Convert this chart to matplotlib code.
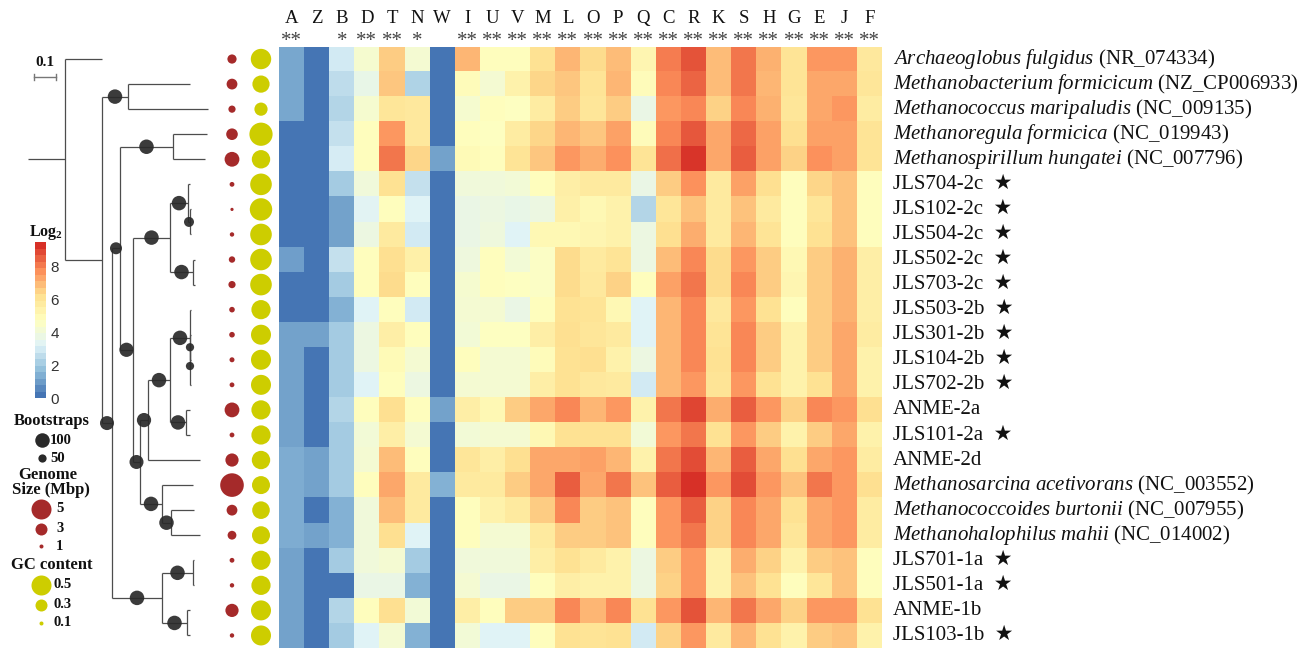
import numpy as np
import matplotlib
matplotlib.use("Agg")
import matplotlib.pyplot as plt
from matplotlib.colors import LinearSegmentedColormap, Normalize
from matplotlib.colorbar import ColorbarBase

plt.rcParams['font.family'] = ['Liberation Serif', 'DejaVu Sans']
plt.rcParams['mathtext.fontset'] = 'custom'
plt.rcParams['mathtext.rm'] = 'Liberation Serif'
plt.rcParams['mathtext.it'] = 'Liberation Serif:italic'
plt.rcParams['mathtext.bf'] = 'Liberation Serif:bold'

# Columns of the heatmap and significance marks
columns = ["A", "Z", "B", "D", "T", "N", "W", "I", "U", "V", "M", "L",
           "O", "P", "Q", "C", "R", "K", "S", "H", "G", "E", "J", "F"]
signif = ["**", "", "*", "**", "**", "*", "", "**", "**", "**", "**", "**",
          "**", "**", "**", "**", "**", "**", "**", "**", "**", "**", "**", "**"]

# Rows (taxa)
taxa = ["Archaeoglobus fulgidus", "Methanobacterium formicicum", "Methanococcus maripaludis",
        "Methanoregula formicica", "Methanospirillum hungatei", "JLS704-2c", "JLS102-2c",
        "JLS504-2c", "JLS502-2c", "JLS703-2c", "JLS503-2b", "JLS301-2b", "JLS104-2b",
        "JLS702-2b", "ANME-2a", "JLS101-2a", "ANME-2d", "Methanosarcina acetivorans",
        "Methanococcoides burtonii", "Methanohalophilus mahii", "JLS701-1a", "JLS501-1a",
        "ANME-1b", "JLS103-1b"]
accession = ["NR_074334", "NZ_CP006933", "NC_009135", "NC_019943", "NC_007796",
             "", "", "", "", "", "", "", "", "", "", "", "",
             "NC_003552", "NC_007955", "NC_014002", "", "", "", ""]

genome_mbp = [2.3, 2.7, 1.8, 2.9, 3.7, 1.2, 0.8, 1.1, 1.6, 1.8, 1.4, 1.4,
              1.25, 1.2, 3.7, 1.2, 3.3, 5.9, 2.7, 2.2, 1.2, 1.1, 3.3, 1.1]
gc_content = [0.51, 0.43, 0.33, 0.58, 0.46, 0.54, 0.56, 0.54, 0.54, 0.54, 0.48, 0.5,
              0.5, 0.5, 0.48, 0.48, 0.46, 0.45, 0.44, 0.45, 0.48, 0.48, 0.5, 0.5]

# log2 values, one row per taxon, columns in the order above
values = np.array([
    [1.1, 0, 2.9, 4.3, 6.7, 4.2, 0, 7.1, 4.8, 4.8, 6.2, 7.1, 6.4, 7.0, 5.2, 8.2, 8.9, 7.0, 8.3, 7.2, 6.1, 7.7, 7.7, 5.9],
    [1.1, 0, 2.5, 3.6, 6.8, 2.2, 0, 4.9, 4.2, 5.4, 6.5, 6.8, 6.1, 7.1, 4.9, 8.0, 8.6, 7.0, 8.3, 7.1, 6.1, 7.4, 7.4, 6.0],
    [1.1, 0, 2.3, 4.3, 6.0, 5.9, 0, 4.3, 4.8, 4.7, 5.7, 6.7, 6.0, 6.7, 3.7, 7.7, 8.0, 6.6, 8.0, 7.2, 6.0, 7.4, 7.7, 5.7],
    [0, 0, 2.6, 4.8, 7.7, 5.9, 0, 4.8, 4.7, 5.7, 6.5, 7.1, 6.8, 7.5, 4.9, 8.0, 8.8, 7.4, 8.5, 7.5, 6.3, 7.5, 7.5, 6.1],
    [0, 0, 3.0, 4.8, 8.3, 6.5, 1.0, 5.0, 4.8, 6.1, 6.8, 7.7, 7.3, 7.8, 6.1, 8.4, 9.4, 7.4, 8.7, 7.5, 6.6, 7.8, 7.5, 6.1],
    [0, 0, 2.0, 4.0, 6.2, 2.6, 0, 4.0, 4.0, 4.1, 4.8, 5.6, 5.8, 5.8, 3.7, 6.7, 7.8, 5.8, 7.5, 6.3, 4.8, 6.5, 6.9, 4.8],
    [0, 0, 1.0, 3.3, 4.8, 3.2, 0, 3.7, 3.8, 3.6, 3.8, 5.5, 5.1, 5.4, 2.3, 6.0, 6.9, 5.8, 6.9, 5.8, 4.8, 6.0, 6.9, 4.8],
    [0, 0, 1.0, 3.8, 5.8, 2.9, 0, 3.7, 3.9, 3.2, 5.1, 5.1, 5.2, 5.4, 3.8, 6.3, 7.3, 5.8, 7.1, 6.1, 4.8, 6.2, 6.9, 4.8],
    [0.9, 0, 2.6, 4.8, 6.3, 5.5, 0, 3.9, 4.8, 4.1, 4.6, 6.4, 5.8, 6.1, 3.8, 7.0, 8.0, 6.4, 7.7, 6.7, 5.1, 6.7, 7.2, 5.6],
    [0, 0, 2.0, 4.8, 6.4, 4.8, 0, 4.3, 4.8, 4.7, 4.6, 6.4, 5.9, 6.6, 4.8, 7.5, 8.3, 6.4, 8.0, 6.7, 5.2, 6.7, 7.2, 5.6],
    [0, 0, 1.3, 3.2, 4.8, 2.9, 0, 4.2, 4.2, 3.7, 4.8, 6.2, 6.1, 5.1, 3.2, 7.1, 8.0, 5.9, 7.7, 6.2, 4.8, 6.7, 7.2, 5.6],
    [1.0, 1.0, 2.0, 3.8, 5.6, 4.8, 0, 4.1, 4.7, 4.7, 5.6, 6.3, 6.0, 5.8, 3.2, 7.1, 8.0, 6.1, 8.0, 6.7, 5.4, 6.7, 7.4, 5.7],
    [1.0, 0, 2.0, 3.8, 5.0, 4.2, 0, 4.8, 4.2, 4.2, 4.9, 6.2, 6.3, 5.4, 3.8, 7.1, 8.0, 6.2, 8.0, 6.7, 5.4, 6.7, 7.4, 5.4],
    [1.0, 0, 2.0, 3.2, 4.8, 3.8, 0, 4.2, 4.2, 4.2, 5.6, 6.2, 5.9, 5.8, 2.9, 7.1, 7.7, 6.1, 7.7, 6.2, 5.4, 6.2, 7.4, 5.4],
    [1.0, 0, 2.3, 4.8, 6.3, 4.8, 1.0, 5.6, 5.1, 6.7, 7.4, 8.0, 7.1, 7.7, 5.4, 8.3, 9.1, 7.3, 8.7, 7.7, 6.6, 8.0, 7.7, 6.3],
    [1.0, 0, 2.0, 4.1, 5.6, 4.2, 0, 4.1, 4.2, 4.2, 5.1, 6.2, 6.2, 6.2, 4.1, 7.7, 8.3, 6.2, 7.7, 6.7, 5.4, 6.7, 7.4, 5.4],
    [1.2, 1.0, 2.0, 4.2, 7.0, 4.8, 0, 6.0, 5.6, 6.3, 7.4, 7.4, 7.5, 7.1, 5.4, 8.3, 9.0, 7.1, 8.7, 7.4, 6.3, 7.4, 7.7, 5.7],
    [1.2, 1.0, 2.0, 4.8, 7.4, 5.8, 1.3, 5.8, 5.8, 6.7, 7.4, 8.7, 7.4, 8.3, 6.9, 8.7, 9.5, 7.7, 9.0, 7.7, 6.9, 8.3, 7.7, 6.3],
    [1.2, 0, 1.3, 4.0, 7.0, 5.8, 0, 4.8, 5.4, 5.8, 6.7, 8.0, 6.7, 6.9, 4.8, 7.7, 8.7, 6.6, 8.0, 7.4, 6.2, 7.4, 7.7, 5.7],
    [1.2, 1.0, 1.3, 4.0, 6.3, 3.2, 0, 4.8, 4.2, 4.2, 5.8, 6.7, 6.7, 6.9, 4.8, 7.7, 8.3, 6.6, 8.0, 7.4, 6.0, 7.4, 7.7, 5.7],
    [1.0, 0, 2.0, 4.0, 4.2, 2.0, 0, 4.0, 4.0, 4.0, 5.6, 6.2, 5.8, 5.4, 3.8, 6.7, 7.7, 5.4, 7.3, 6.6, 5.4, 6.7, 6.9, 4.8],
    [1.0, 0, 0, 3.7, 3.7, 1.3, 0, 4.2, 3.7, 3.7, 4.8, 5.6, 5.4, 5.4, 3.8, 6.6, 7.7, 5.4, 6.9, 6.2, 4.8, 6.0, 6.9, 4.8],
    [1.0, 0, 2.3, 4.8, 6.3, 4.1, 0, 5.6, 4.8, 6.7, 6.7, 8.0, 7.1, 8.0, 6.2, 7.7, 8.9, 7.1, 8.3, 7.4, 6.6, 7.7, 7.7, 6.2],
    [1.0, 0, 2.0, 3.2, 4.2, 1.3, 0, 4.1, 3.2, 3.2, 4.8, 6.2, 6.1, 6.2, 2.9, 6.6, 7.7, 5.8, 7.1, 6.2, 5.4, 6.7, 6.9, 5.4],
])

# Tree: internal node -> (horizontal position, children); leaves are taxa
tree_nodes = {
    "root": (65, ["Archaeoglobus fulgidus", "R1"]),
    "R1": (102, ["N1", "R2"]),
    "N1": (128, ["Methanobacterium formicicum", "Methanococcus maripaludis"]),
    "R2": (112, ["N3", "K"]),
    "N3": (120, ["N2", "N4"]),
    "N2": (173, ["Methanoregula formicica", "Methanospirillum hungatei"]),
    "N4": (133, ["A", "H"]),
    "A": (170, ["B", "C"]),
    "B": (188, ["JLS704-2c", "B2"]),
    "B2": (190, ["JLS102-2c", "JLS504-2c"]),
    "C": (193, ["JLS502-2c", "JLS703-2c"]),
    "H": (140, ["F", "I"]),
    "F": (148, ["E", "ANME-2d"]),
    "E": (170, ["D", "G"]),
    "D": (190, ["JLS503-2b", "D2"]),
    "D2": (190, ["D1", "JLS702-2b"]),
    "D1": (190, ["JLS301-2b", "JLS104-2b"]),
    "G": (186, ["ANME-2a", "JLS101-2a"]),
    "I": (162, ["Methanosarcina acetivorans", "J"]),
    "J": (171, ["Methanococcoides burtonii", "Methanohalophilus mahii"]),
    "K": (162, ["L", "M"]),
    "L": (193, ["JLS701-1a", "JLS501-1a"]),
    "M": (187, ["ANME-1b", "JLS103-1b"]),
}
tip_x = [102, 190, 208, 207, 205, 190, 191, 191, 195, 195, 191, 191, 191, 191,
         190, 190, 200, 193, 194, 200, 194, 194, 190, 190]
bootstrap = {"N1": 100, "R2": 96, "N3": 80, "N2": 100, "N4": 98, "A": 100, "B": 100,
             "B2": 64, "C": 100, "H": 96, "F": 98, "E": 100, "D": 100, "D2": 50, "D1": 50,
             "G": 100, "I": 100, "J": 100, "K": 100, "L": 100, "M": 100}

# legend entries
boot_leg = [100, 50]
genome_leg = [5, 3, 1]
gc_leg = [0.5, 0.3, 0.1]

cmap = LinearSegmentedColormap.from_list(
    "pheat", ["#4575B4", "#91BFDB", "#E0F3F8", "#FFFFBF", "#FEE090", "#FC8D59", "#D73027"])
vmax = 9.5

W, H = 1302, 648
fig = plt.figure(figsize=(W / 100, H / 100), dpi=100)
top = 1 - 46.5 / H


def s_from_px(d):
    return (np.asarray(d) * 0.72) ** 2


def boot_px(b):
    return 2 + 0.125 * np.asarray(b)


# heatmap
ax = fig.add_axes([279 / W, 0, 603 / W, top])
ax.imshow(values, cmap=cmap, vmin=0, vmax=vmax, aspect="auto", interpolation="nearest")
ax.set_xticks([])
ax.set_yticks([])
for sp in ax.spines.values():
    sp.set_visible(False)
tr = ax.get_xaxis_transform()
for j, (c, s) in enumerate(zip(columns, signif)):
    ax.text(j, 1.047, c, transform=tr, ha="center", va="center", fontsize=13.5, color="#111")
    if s:
        ax.text(j, 1.009, s, transform=tr, ha="center", va="center", fontsize=15, color="#444")

for i, name in enumerate(taxa):
    if accession[i]:
        lab = r"$\it{" + name.replace(" ", r"\ ") + "}$ (" + accession[i] + ")"
    elif name.startswith("JLS"):
        lab = name + "  \u2605"
    else:
        lab = name
    ax.annotate(lab, xy=(23.5, i), xytext=(8, 0), textcoords="offset points",
                ha="left", va="center", fontsize=15, color="#111", annotation_clip=False)

# tree + genome/GC dots, rows shared with the heatmap
tax = fig.add_axes([0, 0, 279 / W, top])
tax.set_xlim(0, 279)
tax.set_ylim(len(taxa) - 0.5, -0.5)
tax.axis("off")
leaf_index = {n: i for i, n in enumerate(taxa)}
line_kw = dict(color="#4d4d4d", lw=0.9, solid_capstyle="butt")
boot_pts = []


def draw(node, parent_x):
    if node in leaf_index:
        i = leaf_index[node]
        tax.plot([parent_x, tip_x[i]], [i, i], **line_kw)
        return i
    x, kids = tree_nodes[node]
    ys = [draw(k, x) for k in kids]
    y = (ys[0] + ys[-1]) / 2
    tax.plot([x, x], [min(ys), max(ys)], **line_kw)
    tax.plot([parent_x, x], [y, y], **line_kw)
    if node in bootstrap:
        boot_pts.append(((parent_x + x) / 2, y, bootstrap[node]))
    return y


draw("root", 28)
bx, by, bb = zip(*boot_pts)
tax.scatter(bx, by, s=s_from_px(boot_px(bb)), color="#2a2a2a", alpha=0.92, zorder=3, lw=0)
rows = np.arange(len(taxa))
tax.scatter(np.full(len(taxa), 232), rows, s=s_from_px(4 * np.array(genome_mbp)),
            color="#A52A2A", zorder=3, lw=0)
tax.scatter(np.full(len(taxa), 261), rows, s=s_from_px(40 * np.array(gc_content)),
            color="#CDCD00", zorder=3, lw=0)

# left legends in pixel coordinates
lax = fig.add_axes([0, 0, 1, 1])
lax.set_xlim(0, W)
lax.set_ylim(H, 0)
lax.axis("off")
bold = dict(fontweight="bold", color="#111", ha="center", va="center")
lax.text(45, 63, "0.1", fontsize=11, **bold)
lax.plot([34, 56], [77, 77], color="#777", lw=1)
lax.plot([34, 34], [74, 80], color="#777", lw=1)
lax.plot([56, 56], [74, 80], color="#777", lw=1)
lax.text(46, 232, r"$\mathbf{Log_2}$", fontsize=11.5, ha="center", va="center", color="#111")

lax.text(52, 421, "Bootstraps", fontsize=12, **bold)
for yy, b in zip([440, 458], boot_leg):
    lax.scatter(42, yy, s=s_from_px(boot_px(b)), color="#2a2a2a", lw=0)
    lax.text(50, yy, str(b), fontsize=10.5, fontweight="bold", va="center", color="#111")

lax.text(48, 475, "Genome", fontsize=12, **bold)
lax.text(51, 490, "Size (Mbp)", fontsize=12, **bold)
for yy, g in zip([509, 529, 546], genome_leg):
    lax.scatter(41, yy, s=s_from_px(4 * g), color="#A52A2A", lw=0)
    lax.text(56, yy, str(g), fontsize=10.5, fontweight="bold", va="center", color="#111")

lax.text(52, 565, "GC content", fontsize=12, **bold)
for yy, g in zip([585, 605, 623], gc_leg):
    lax.scatter(41, yy, s=s_from_px(40 * g), color="#CDCD00", lw=0)
    lax.text(54, yy, str(g), fontsize=10.5, fontweight="bold", va="center", color="#111")

# colour key
cax = fig.add_axes([35 / W, (H - 398) / H, 11 / W, 156 / H])
cb = ColorbarBase(cax, cmap=cmap.resampled(24), norm=Normalize(0, vmax), ticks=[0, 2, 4, 6, 8])
cb.outline.set_visible(False)
cax.tick_params(length=0, pad=3, labelsize=11, labelcolor="#333")
for t in cax.get_yticklabels():
    t.set_family("Liberation Sans")

fig.savefig("out.png", dpi=100)
